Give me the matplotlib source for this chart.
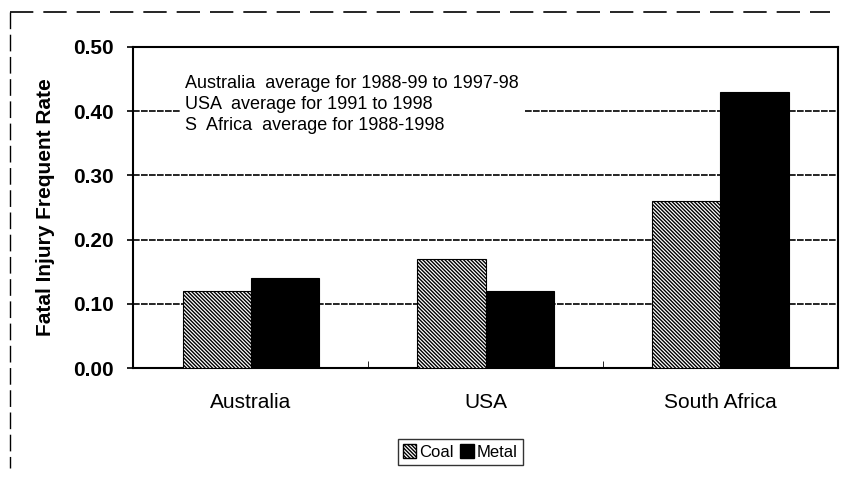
import numpy as np
import matplotlib.pyplot as plt
from matplotlib.patches import Patch
from matplotlib.lines import Line2D

plt.rcParams['font.family'] = ['Liberation Sans', 'DejaVu Sans']
plt.rcParams['hatch.linewidth'] = 1.0

countries = ['Australia', 'USA', 'South Africa']
coal = [0.12, 0.17, 0.26]
metal = [0.14, 0.12, 0.43]
yticks = [0.0, 0.1, 0.2, 0.3, 0.4, 0.5]
notes = ['Australia  average for 1988-99 to 1997-98',
         'USA  average for 1991 to 1998',
         'S  Africa  average for 1988-1998']

fig = plt.figure(figsize=(8.43, 4.82), dpi=100)
ax = fig.add_axes([0.158, 0.2365, 0.836, 0.666])

hatch = '\\' * 9
x = np.arange(len(countries))
w = 0.29
ax.bar(x - w/2, coal, w, color='white', edgecolor='black', hatch=hatch,
       linewidth=0.8, label='Coal', zorder=3)
ax.bar(x + w/2, metal, w, color='black', edgecolor='black', linewidth=0.8,
       label='Metal', zorder=3)

ax.set_xlim(-0.5, 2.5)
ax.set_ylim(0, 0.5)
ax.set_yticks(yticks)
ax.set_yticklabels(['%.2f' % v for v in yticks], fontsize=15, fontweight='bold')
ax.set_xticks(x)
ax.set_xticklabels(countries, fontsize=15)
ax.tick_params(axis='x', length=0, pad=18)
ax.set_xticks([0.5, 1.5], minor=True)
ax.tick_params(axis='x', which='minor', length=5, direction='in')
ax.tick_params(axis='y', length=4, direction='out', width=1.2, pad=10)
ax.yaxis.grid(True, color='black', linewidth=1.2, linestyle=(0, (4, 0.8)))
ax.set_axisbelow(True)
for s in ax.spines.values():
    s.set_linewidth(1.5)
ax.set_ylabel('Fatal Injury Frequent Rate', fontsize=15, fontweight='bold')
ax.yaxis.set_label_coords(-0.111, 0.5)

# note block has a white background that hides the 0.40 gridline
ax.text(0.074, 0.82, '\n'.join(notes), transform=ax.transAxes, fontsize=13,
        va='center', ha='left', linespacing=1.3, zorder=2,
        bbox=dict(facecolor='white', edgecolor='none', pad=4))

handles = [Patch(facecolor='white', edgecolor='black', hatch=hatch, label='Coal'),
           Patch(facecolor='black', edgecolor='black', label='Metal')]
leg = fig.legend(handles=handles, loc='center', bbox_to_anchor=(0.546, 0.062),
                 ncol=2, fontsize=12, frameon=True, fancybox=False,
                 handlelength=0.8, handleheight=0.9, handletextpad=0.2,
                 columnspacing=0.4, borderpad=0.3, borderaxespad=0)
leg.get_frame().set_edgecolor('black')
leg.get_frame().set_linewidth(1.0)

# scanned outer border (top and left only visible)
fig.add_artist(Line2D([0.012, 0.985], [0.975, 0.975], transform=fig.transFigure,
                      color='black', linewidth=1.2, linestyle=(0, (14, 6))))
fig.add_artist(Line2D([0.012, 0.012], [0.975, 0.03], transform=fig.transFigure,
                      color='black', linewidth=1.0, linestyle=(0, (12, 4))))

fig.savefig('out.png', dpi=100)
